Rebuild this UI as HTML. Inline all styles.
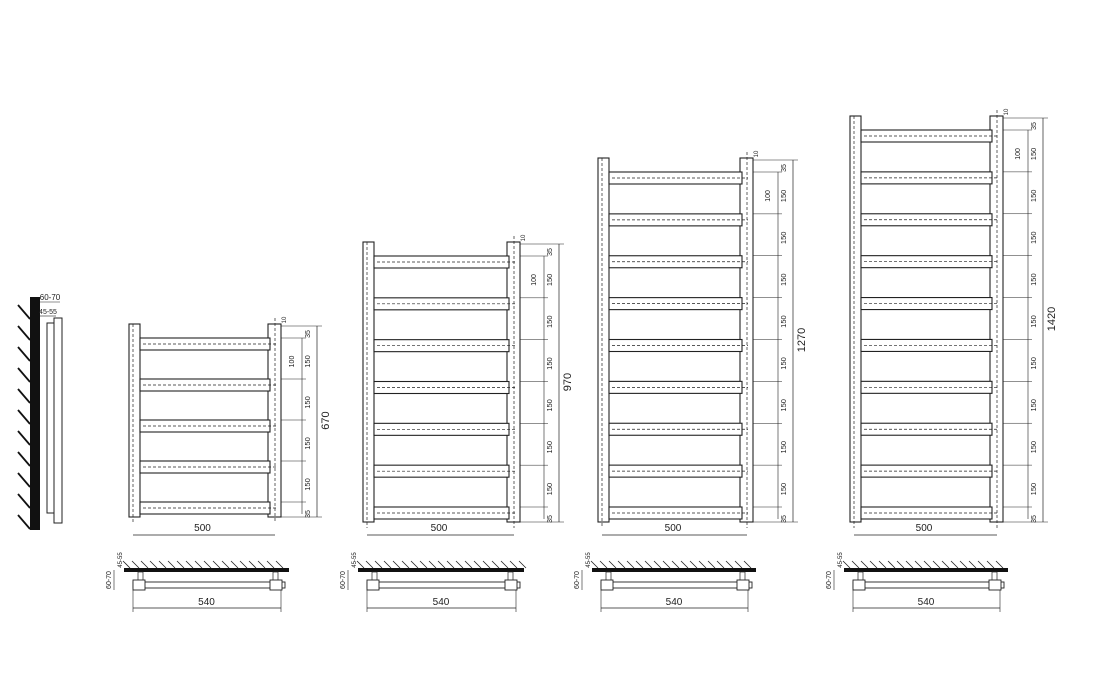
<!DOCTYPE html>
<html><head><meta charset="utf-8"><style>
html,body{margin:0;padding:0;background:#fff;}
svg{display:block;font-family:"Liberation Sans",Arial,sans-serif;}
</style></head><body>
<svg id="s" width="1099" height="685" viewBox="0 0 1099 685" xmlns="http://www.w3.org/2000/svg"></svg>
<script>
var s=document.getElementById('s');var out='';
function L(x1,y1,x2,y2,w,d,c){out+='<line x1="'+x1+'" y1="'+y1+'" x2="'+x2+'" y2="'+y2+'" stroke="'+(c||'#222')+'" stroke-width="'+(w||0.8)+'" '+(d?'stroke-dasharray="'+d+'"':'')+'/>';}
function R(x,y,w,hh,sw,f){out+='<rect x="'+x+'" y="'+y+'" width="'+w+'" height="'+hh+'" fill="'+(f||'#fff')+'" stroke="#222" stroke-width="'+(sw===undefined?1.1:sw)+'"/>';}
function T(x,y,t,sz,rot){out+='<text x="'+x+'" y="'+y+'" font-size="'+(sz||10)+'" text-anchor="middle" fill="#222" '+(rot?'transform="rotate(-90 '+x+' '+y+')"':'')+'>'+t+'</text>';}
R(30,297,10,233,0,'#111');
for(var i=0;i<11;i++){var y=305+i*21;L(18,y,30,y+14,1.8,null,'#111');}
R(47,323,7,190,1);R(54,318,8,205,1);
L(40,302,60,302,0.6);L(40,316,56,316,0.6);T(50,300,'60-70',8);T(48,314,'45-55',7);
function rad(lx,tp,rx,bars,bot,tot,dimx){
  R(lx,tp,11,bot-tp,1.1);R(rx,tp,13,bot-tp,1.1);
  L(lx+4,tp,lx+4,bot+6,0.7,'3,2');L(rx+7,tp-6,rx+7,bot+6,0.7,'3,2');
  var step=(bot-15-(tp+14))/(bars-1);
  for(var i=0;i<bars;i++){var y=tp+14+i*step;R(lx+11,y,rx-lx-9,12,1.1);L(lx+14,y+6,rx+8,y+6,0.7,'3,2');}
  L(lx+4,535,rx+7,535,0.8);T((lx+rx)/2+4,531,'500',10);
  L(rx+13,tp+2,dimx+30,tp+2,0.6);L(rx+13,bot,dimx+30,bot,0.6);L(dimx+25,tp+2,dimx+25,bot,0.7);
  T(dimx+37,(tp+bot)/2,tot,11,1);
  L(dimx+10,tp+14,dimx+10,bot-3,0.6);
  for(var i=0;i<bars;i++){var y=tp+14+i*step;L(rx+13,y,dimx+14,y,0.5);}
  for(var i=0;i<bars-1;i++){var y=tp+14+i*step;T(dimx+18,y+step/2+3,'150',7.5,1);}
  T(dimx+18,tp+10,'35',7,1);T(dimx+2,tp+14+step/2+3,'100',7,1);T(dimx+18,bot-3,'35',7,1);T(rx+18,tp-4,'10',6,1);
}
rad(129,324,268,5,517,'670',292);
rad(363,242,507,7,522,'970',534);
rad(598,158,740,9,522,'1270',768);
rad(850,116,990,10,522,'1420',1018);
function topView(x1,x2){
  for(var x=x1-5;x<x2;x+=9)L(x,561,x+7,568,0.8);
  R(x1-4,568,x2-x1+8,4,0,'#111');
  R(x1+10,572,5,10,0.7);R(x2-12,572,5,10,0.7);
  R(x1+5,582,x2-x1-5,6,0.9);R(x1+5,580,12,10,0.9);R(x2-15,580,12,10,0.9);
  L(x1+5,590,x1+5,612,0.6);L(x2-4,590,x2-4,612,0.6);L(x1+5,608,x2-4,608,0.8);
  T((x1+x2)/2,605,'540',10);
  L(x1-14,570,x1-14,590,0.6);T(x1-17,580,'60-70',7,1);T(x1-6,560,'45-55',6,1);
}
topView(128,285);topView(362,520);topView(596,752);topView(848,1004);
s.innerHTML=out;
</script>
</body></html>
